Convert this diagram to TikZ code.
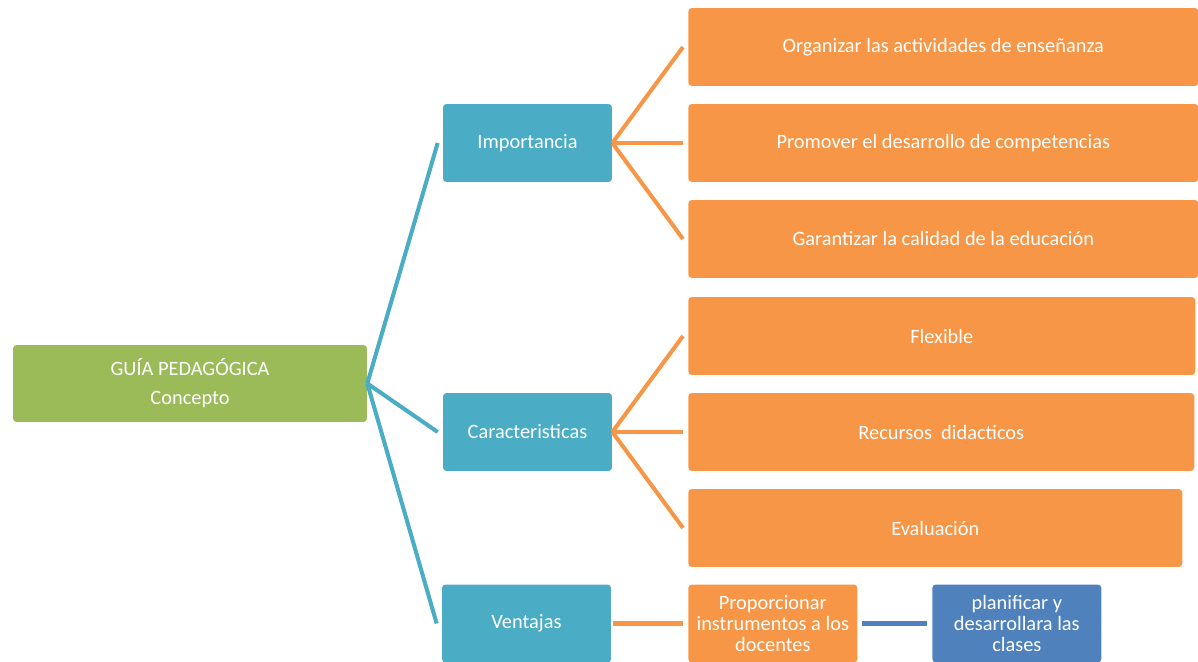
\documentclass[tikz,border=0pt]{standalone}
\usepackage{fontspec}
\setmainfont{Carlito}
\definecolor{rootgreen}{HTML}{9BBB59}
\definecolor{catteal}{HTML}{4BACC6}
\definecolor{itemorange}{HTML}{F79646}
\definecolor{stepblue}{HTML}{4F81BD}
\begin{document}
\begin{tikzpicture}[x=0.02cm,y=-0.02cm,
  box/.style={rounded corners=2pt,text=white,font=\fontsize{11.6}{12}\selectfont,align=center,inner sep=1pt},
  rootbox/.style={box,fill=rootgreen,minimum width=7.08cm,minimum height=1.54cm},
  catbox/.style={box,fill=catteal,minimum width=3.38cm,minimum height=1.56cm},
  itembox/.style={box,fill=itemorange,anchor=west,minimum height=1.56cm},
  tealline/.style={draw=catteal,line width=2.3pt},
  orangeline/.style={draw=itemorange,line width=2.3pt},
  blueline/.style={draw=stepblue,line width=2.3pt}]
\useasboundingbox (0,0) rectangle (1198,662);
% main concept
\node (guia) [rootbox] at (190,383.5) {GUÍA PEDAGÓGICA\\[4.5pt]Concepto};
% categories
\node (imp) [catbox] at (527.5,143) {Importancia};
\node (car) [catbox] at (527.5,432) {Caracteristicas};
\node (ven) [catbox] at (526.5,623.5) {Ventajas};
% items
\node (org) [itembox,minimum width=10.2cm] at (688,47) {Organizar las actividades de enseñanza};
\node (pro) [itembox,minimum width=10.2cm] at (688,143) {Promover el desarrollo de competencias};
\node (gar) [itembox,minimum width=10.2cm] at (688,239) {Garantizar la calidad de la educación};
\node (fle) [itembox,minimum width=10.14cm] at (688,336) {Flexible};
\node (rec) [itembox,minimum width=10.12cm] at (688,432) {Recursos\ \ didacticos};
\node (eva) [itembox,minimum width=9.88cm] at (688,528) {Evaluación};
\node (ins) [itembox,minimum width=3.38cm] at (688,623.5) {Proporcionar\\instrumentos a los\\docentes};
\node (pla) [itembox,fill=stepblue,minimum width=3.38cm] at (932,623.5) {planificar y\\desarrollara las\\clases};
% connectors
\draw[tealline] (guia.east) -- ([xshift=-0.1cm]imp.west);
\draw[tealline] (guia.east) -- ([xshift=-0.1cm]car.west);
\draw[tealline] (guia.east) -- ([xshift=-0.1cm]ven.west);
\draw[orangeline] (imp.east) -- ([xshift=-0.1cm]org.west);
\draw[orangeline] (imp.east) -- ([xshift=-0.1cm]pro.west);
\draw[orangeline] (imp.east) -- ([xshift=-0.1cm]gar.west);
\draw[orangeline] (car.east) -- ([xshift=-0.1cm]fle.west);
\draw[orangeline] (car.east) -- ([xshift=-0.1cm]rec.west);
\draw[orangeline] (car.east) -- ([xshift=-0.1cm]eva.west);
\draw[orangeline] ([xshift=0.04cm]ven.east) -- ([xshift=-0.1cm]ins.west);
\draw[blueline] ([xshift=0.08cm]ins.east) -- ([xshift=-0.1cm]pla.west);
\end{tikzpicture}
\end{document}
